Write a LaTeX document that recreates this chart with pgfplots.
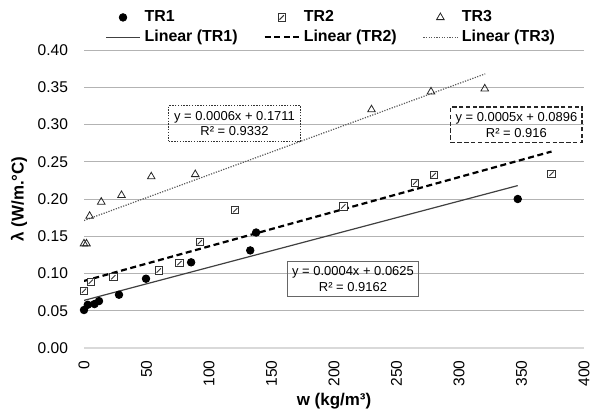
\documentclass[border=0pt]{standalone}
\usepackage{fontspec}
\setmainfont{Liberation Sans}
\usepackage{pgfplots}
\pgfplotsset{compat=1.18}
\definecolor{gridgray}{HTML}{B3B3B3}
\definecolor{axisgray}{HTML}{D9D9D9}

% square with a diagonal, like the spreadsheet marker
\pgfdeclareplotmark{hsquare}{%
  \pgfpathrectangle{\pgfpoint{-\pgfplotmarksize}{-\pgfplotmarksize}}{\pgfpoint{2\pgfplotmarksize}{2\pgfplotmarksize}}%
  \pgfusepathqfillstroke
  \pgfpathmoveto{\pgfpoint{-0.6\pgfplotmarksize}{-0.6\pgfplotmarksize}}%
  \pgfpathlineto{\pgfpoint{0.6\pgfplotmarksize}{0.6\pgfplotmarksize}}%
  \pgfusepathqstroke
}

\begin{document}
\begin{tikzpicture}
\useasboundingbox (-42bp,-32.5bp) rectangle (253bp,174bp);
\begin{axis}[
  at={(0,0)}, anchor=south west,
  scale only axis, width=250bp, height=149bp,
  xmin=0, xmax=400, ymin=0, ymax=0.4,
  xtick={0,50,...,400}, ytick={0,0.05,...,0.401},
  axis x line*=bottom, axis y line*=left,
  x axis line style={axisgray, line width=0.6bp},
  y axis line style={draw=none},
  major tick length=0pt,
  ymajorgrids, grid style={gridgray, line width=0.5bp},
  /pgf/number format/assume math mode=true,
  tick label style={font=\fontsize{7.8}{9}\selectfont},
  yticklabel style={/pgf/number format/.cd, fixed, fixed zerofill, precision=2, /tikz/.cd, xshift=-4.5bp},
  xticklabel style={yshift=-5.5bp, rotate=90, anchor=east, inner sep=0.5pt},
  xlabel={\textbf{w (kg/m³)}},
  ylabel={\textbf{λ (W/m.°C)}},
  label style={font=\fontsize{8.5}{10}\selectfont},
  xlabel style={at={(axis description cs:0.5,-0.178)}, anchor=center},
  ylabel style={at={(axis description cs:-0.13,0.5)}, anchor=center},
  legend columns=3,
  legend style={at={(axis description cs:0.042,1)}, anchor=south west, yshift=1.5bp,
    draw=none, fill=none, inner sep=0pt, row sep=0.5bp,
    font=\fontsize{8}{9}\selectfont\bfseries,
    nodes={inner ysep=1pt, inner xsep=2pt, text height=5.8bp, text depth=1.6bp},
    /tikz/every even column/.append style={column sep=11bp}},
  legend cell align=left,
]
\addplot[only marks, mark=*, mark size=1.9pt, black] coordinates {
  (0,0.051) (3,0.058) (8.4,0.059) (12,0.063) (28,0.0715) (49.6,0.093)
  (85.7,0.115) (133,0.131) (137.7,0.155) (347,0.200)};
\addlegendentry{TR1}
\addplot[only marks, mark=hsquare, mark size=1.8pt, mark options={draw=black!80, fill=white, line width=0.45pt}] coordinates {
  (0,0.077) (5.4,0.089) (23.5,0.095) (59.8,0.104) (76.4,0.114) (92.6,0.142)
  (121,0.185) (207.5,0.190) (265,0.222) (279.7,0.232) (374,0.234)};
\addlegendentry{TR2}
\addplot[only marks, mark=triangle, mark size=2.2pt, mark options={draw=black!85, fill=white, line width=0.4pt}] coordinates {
  (0,0.140) (2,0.140) (4.5,0.177) (13.8,0.196) (30,0.205) (53.8,0.230)
  (89,0.233) (230,0.320) (277.6,0.344) (320.6,0.348)};
\addlegendentry{TR3}
\addplot[black!75, line width=0.6bp] coordinates {(0,0.0639) (347,0.218)};
\addlegendentry{Linear (TR1)}
\addplot[black, line width=1.1bp, dash pattern=on 3bp off 1.8bp] coordinates {(0,0.090) (374,0.2637)};
\addlegendentry{Linear (TR2)}
\addplot[black!65, line width=0.6bp, dash pattern=on 0.6bp off 0.7bp] coordinates {(0,0.1711) (321,0.368)};
\addlegendentry{Linear (TR3)}

\node[draw=black!80, line width=0.6bp, dash pattern=on 0.7bp off 0.7bp, align=center,
  minimum width=65.8bp, minimum height=17.8bp, inner sep=1pt,
  font=\fontsize{6.5}{7.7}\selectfont] at (axis cs:120.4,0.3012) {y = 0.0006x + 0.1711\\R² = 0.9332};
\node[draw=black!85, line width=0.9bp, dash pattern=on 2.2bp off 1.2bp, align=center,
  minimum width=65.8bp, minimum height=17.6bp, inner sep=1pt,
  font=\fontsize{6.5}{7.7}\selectfont] at (axis cs:345.9,0.2995) {y = 0.0005x + 0.0896\\R² = 0.916};
\node[draw=black!60, line width=0.5bp, align=center,
  minimum width=65bp, minimum height=17.5bp, inner sep=1pt,
  font=\fontsize{6.5}{7.7}\selectfont] at (axis cs:215.2,0.0927) {y = 0.0004x + 0.0625\\R² = 0.9162};
\end{axis}
\end{tikzpicture}
\end{document}
